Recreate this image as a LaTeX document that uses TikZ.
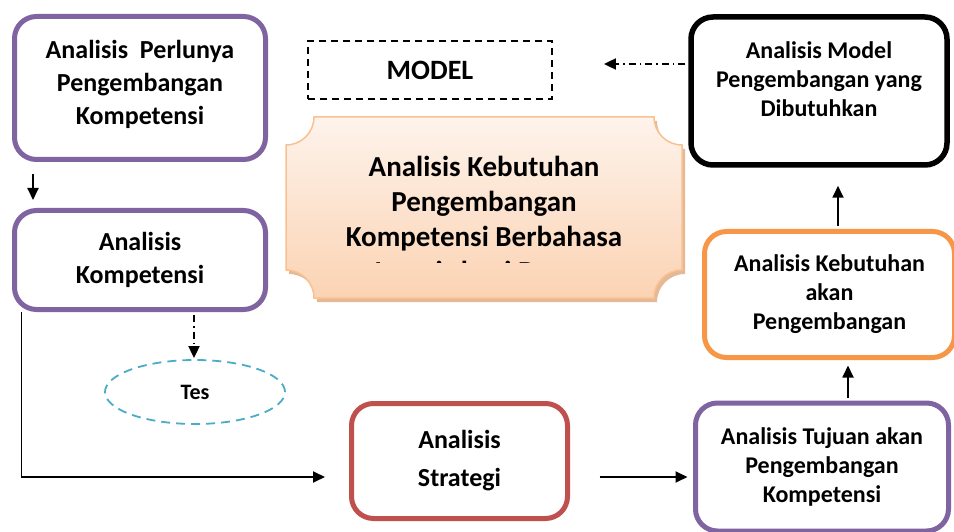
\documentclass[tikz,border=0pt]{standalone}
\usepackage{fontspec}
\setmainfont{Carlito}
\usetikzlibrary{arrows.meta,shapes.geometric,calc}
\definecolor{cpurple}{HTML}{8064A2}
\definecolor{corange}{HTML}{F79646}
\definecolor{cred}{HTML}{C0504D}
\definecolor{ccyan}{HTML}{4BACC6}
\definecolor{plqborder}{HTML}{FAC090}
\definecolor{plqtop}{HTML}{FEF3EC}
\definecolor{plqbot}{HTML}{FBD3B3}
\definecolor{plqshadow}{HTML}{E3B996}
\begin{document}
\begin{tikzpicture}[x=1pt,y=-1pt,
  box/.style={draw, line width=5pt, rounded corners=22pt, align=center, inner sep=0pt,
    font=\bfseries\fontsize{26}{33}\selectfont},
  smalltxt/.style={font=\bfseries\fontsize{24}{29}\selectfont},
  arr/.style={line width=1.8pt, -{Triangle[length=12pt,width=11pt]}},
  dashdot/.style={dash pattern=on 7pt off 4pt on 1.5pt off 4pt},
]
\clip (0,0) rectangle (954,532);
\fill[white] (0,0) rectangle (954,532);

% central plaque
\def\plq#1{(286+28,117) -- (682-28,117) arc[start angle=180,end angle=270,radius=28pt]
  -- (682,298-28) arc[start angle=90,end angle=180,radius=28pt]
  -- (286+28,298) arc[start angle=0,end angle=90,radius=28pt]
  -- (286,117+28) arc[start angle=270,end angle=360,radius=28pt] -- cycle}
\fill[plqshadow,shift={(3,4)}] \plq{};
\shade[top color=plqtop,bottom color=plqbot,draw=plqborder,line width=1.5pt] \plq{};
\begin{scope}
  \clip (286,117) rectangle (682,262);
  \node[anchor=north, align=center, inner sep=0pt, font=\bfseries\fontsize{29}{35}\selectfont] (plqtxt) at (484,156)
    {Analisis Kebutuhan\\Pengembangan\\Kompetensi Berbahasa\\Inggris bagi Dosen};
\end{scope}

% boxes
\node[box, draw=cpurple, minimum width=251pt, minimum height=143pt] (perlu) at (140,88) {};
\node[align=center, inner sep=0pt, font=\bfseries\fontsize{26}{33}\selectfont] (perlutxt) at (140,84)
  {Analisis\ \ Perlunya\\Pengembangan\\Kompetensi};
\node[box, draw=cpurple, minimum width=251pt, minimum height=99pt] (komp) at (140,260)
  {Analisis\\Kompetensi};
\node[draw, line width=1.8pt, dash pattern=on 7pt off 5pt, minimum width=244pt, minimum height=58pt,
  inner sep=0pt, font=\bfseries\fontsize{28}{34}\selectfont] (modelbox) at (430,70) {MODEL};
\node[box, draw=black, line width=5.5pt, minimum width=256pt, minimum height=148pt] (model) at (819,91) {};
\node[smalltxt, align=center, inner sep=0pt] (modeltxt) at (819,79)
  {Analisis Model\\Pengembangan yang\\Dibutuhkan};
\node[box, smalltxt, draw=corange, minimum width=250pt, minimum height=126pt] (kebut) at (829.5,294.5)
  {Analisis Kebutuhan\\akan\\Pengembangan};
\node[box, smalltxt, draw=cpurple, minimum width=253pt, minimum height=128pt] (tujuan) at (822,467)
  {Analisis Tujuan akan\\Pengembangan\\Kompetensi};
\node[box, draw=cred, minimum width=216pt, minimum height=115pt,
  font=\bfseries\fontsize{26}{38}\selectfont] (strat) at (459.5,461) {Analisis\\Strategi};
\node[ellipse, draw=ccyan, line width=1.8pt, dash pattern=on 9pt off 6pt, minimum width=180pt,
  minimum height=64pt, inner sep=0pt, font=\bfseries\fontsize{22}{26}\selectfont] (tes) at (195,392) {Tes};

% connectors
\draw[arr] ($(perlu.south)+(-107,12)$) -- ($(komp.north)+(-107,-8)$);
\draw[arr, dashdot] ($(komp.south)+(54,3)$) -- ($(tes.north)+(-1,-1)$);
\draw[arr, shorten >=24pt] ($(komp.south west)+(9.5,0)$) |- ($(strat.west)+(0,16)$);
\draw[arr] ($(strat.east)+(29.5,16)$) -- ($(tujuan.west)+(-5.5,10)$);
\draw[arr] ($(tujuan.north)+(26,-3)$) -- ($(kebut.south)+(18.5,5.5)$);
\draw[arr] ($(kebut.north)+(8.5,-3)$) -- ($(model.south)+(19,18)$);
\draw[arr, dashdot] ($(model.west)+(-3,-27)$) -- ($(modelbox.east)+(51,-6)$);
\end{tikzpicture}
\end{document}
